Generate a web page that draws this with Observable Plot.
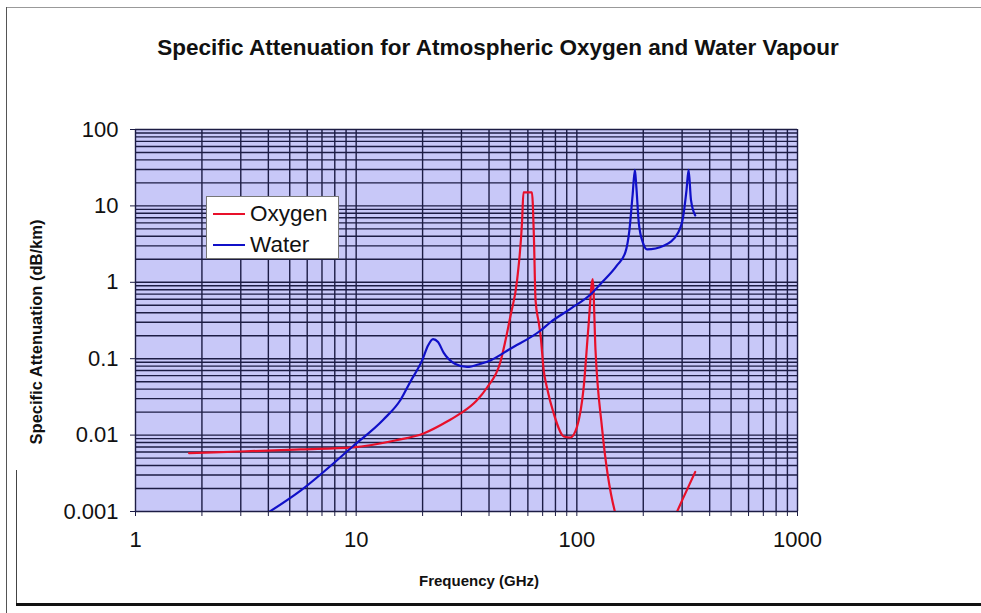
<!DOCTYPE html>
<html>
<head>
<meta charset="utf-8">
<script src="https://cdn.jsdelivr.net/npm/d3@7"></script>
<script src="https://cdn.jsdelivr.net/npm/@observablehq/plot@0.6"></script>
<style>
  html, body { margin: 0; padding: 0; background: #fff; }
  #wrap { position: relative; width: 981px; height: 613px; overflow: hidden; font-family: "Liberation Sans", Arial, sans-serif; }
  #wrap svg { position: absolute; left: 0; top: 0; }
  .abs { position: absolute; white-space: nowrap; }
</style>
</head>
<body>
<div id="wrap"></div>
<script>
// ---- data ----
const title = "Specific Attenuation for Atmospheric Oxygen and Water Vapour";
const xLabel = "Frequency (GHz)";
const yLabel = "Specific Attenuation (dB/km)";
const seriesNames = ["Oxygen", "Water"];
const seriesColors = ["#e8102a", "#1010c8"];

const xTickValues = [1, 10, 100, 1000];
const xTickLabels = ["1", "10", "100", "1000"];
const yTickValues = [0.001, 0.01, 0.1, 1, 10, 100];
const yTickLabels = ["0.001", "0.01", "0.1", "1", "10", "100"];

const oxygenFreq = [1.75, 3, 5.6, 9.7, 15, 20.2, 26.3, 29.7, 35, 39.2, 45, 48, 50, 53.6, 56.5, 57.3, 62.6, 63.9, 65, 67.3, 68.5, 70.8, 73.2, 78.7, 87.3, 93.4, 100, 107.4, 112.8, 118, 121.5, 130, 149.6, 160, 200, 250, 279, 300, 344];
const oxygenAtt  = [0.0058, 0.0061, 0.0065, 0.0069, 0.0085, 0.0105, 0.0155, 0.0192, 0.028, 0.042, 0.09, 0.2, 0.36, 1.06, 6.4, 15, 15, 3.9, 0.58, 0.29, 0.2, 0.07, 0.042, 0.0189, 0.0096, 0.0093, 0.0126, 0.042, 0.255, 1.1, 0.13, 0.0126, 0.00094, 0.0006, 0.0003, 0.0005, 0.00088, 0.0014, 0.0033];

const waterFreq = [3.95, 5.6, 9.7, 13.3, 15.9, 17.6, 19.9, 21.2, 22.3, 23.5, 24.9, 28, 31.8, 36.6, 40.6, 50, 68.5, 75.9, 93.5, 117, 128, 152, 166, 173, 179, 183.3, 186, 191, 200, 208, 249, 288, 303, 314, 321, 329, 344];
const waterAtt  = [0.00095, 0.00188, 0.0072, 0.016, 0.029, 0.05, 0.095, 0.15, 0.18, 0.165, 0.12, 0.086, 0.078, 0.086, 0.095, 0.135, 0.234, 0.30, 0.45, 0.72, 0.95, 1.66, 2.48, 4.76, 14, 29.6, 18, 5.9, 3.2, 2.69, 3.03, 4.5, 7.1, 16, 29.6, 12, 7.5];

// ---- build tables ----
const oxygen = oxygenFreq.map((f, i) => ({f, v: oxygenAtt[i]}));
const water = waterFreq.map((f, i) => ({f, v: waterAtt[i]}));
const xGrid = [];
for (const d of [1, 10, 100]) for (let k = 1; k <= 9; k++) xGrid.push(d * k);
xGrid.push(1000);
const yGrid = [];
for (const d of [0.001, 0.01, 0.1, 1, 10]) for (let k = 1; k <= 9; k++) yGrid.push(+(d * k).toPrecision(3));
yGrid.push(100);

const bg = "#c8c8f8";
const gridColor = "#1c1c44";

const chart = Plot.plot({
  width: 981,
  height: 613,
  marginLeft: 135,
  marginRight: 184,
  marginTop: 129,
  marginBottom: 102,
  style: {background: "transparent", fontFamily: "'Liberation Sans', Arial, sans-serif", color: "#111"},
  x: {type: "log", domain: [1, 1000]},
  y: {type: "log", domain: [0.001, 100]},
  marks: [
    Plot.frame({fill: bg, stroke: null}),
    Plot.gridX(xGrid, {stroke: gridColor, strokeOpacity: 1, strokeWidth: 1.4}),
    Plot.gridY(yGrid, {stroke: gridColor, strokeOpacity: 1, strokeWidth: 1.4}),
    Plot.axisX({ticks: xGrid, tickSize: 5, tickPadding: 15, stroke: gridColor, fontSize: 22, fill: "#111",
      tickFormat: d => { const i = xTickValues.indexOf(d); return i >= 0 ? xTickLabels[i] : ""; }, label: null}),
    Plot.axisY({ticks: yTickValues, tickSize: 5, tickPadding: 12, stroke: gridColor, fontSize: 22, fill: "#111",
      tickFormat: d => { const i = yTickValues.findIndex(t => Math.abs(t - d) < 1e-9); return i >= 0 ? yTickLabels[i] : ""; }, label: null}),
    Plot.line(oxygen, {x: "f", y: "v", stroke: seriesColors[0], strokeWidth: 2.2, curve: "monotone-x", clip: true}),
    Plot.line(water, {x: "f", y: "v", stroke: seriesColors[1], strokeWidth: 2.2, curve: "monotone-x", clip: true})
  ]
});

const wrap = document.getElementById("wrap");
wrap.appendChild(chart);

function add(html, css) {
  const d = document.createElement("div");
  d.className = "abs";
  d.innerHTML = html;
  Object.assign(d.style, css);
  wrap.appendChild(d);
  return d;
}
// frame lines
add("", {left: "6px", top: "7px", width: "975px", height: "0", borderTop: "1px solid #999"});
add("", {left: "6px", top: "7px", width: "0", height: "606px", borderLeft: "1px solid #555"});
add("", {left: "16px", top: "470px", width: "0", height: "136px", borderLeft: "1px solid #444"});
add("", {left: "16px", top: "603px", width: "965px", height: "3px", background: "#111"});

// title & labels
add(title, {left: "498px", top: "48px", transform: "translate(-50%,-50%)", fontSize: "22.5px", fontWeight: "bold", color: "#111"});
add(xLabel, {left: "479px", top: "580px", transform: "translate(-50%,-50%)", fontSize: "15px", fontWeight: "bold", color: "#111"});
add(yLabel, {left: "36px", top: "332px", transform: "translate(-50%,-50%) rotate(-90deg)", fontSize: "16.5px", fontWeight: "bold", color: "#111"});

// legend
const lg = add("", {left: "206px", top: "196px", width: "131px", height: "61px", background: "#fff", border: "1px solid #777"});
seriesNames.forEach((name, i) => {
  const row = document.createElement("div");
  Object.assign(row.style, {position: "absolute", left: "6px", top: (5 + i * 31) + "px", height: "24px", display: "flex", alignItems: "center"});
  row.innerHTML = `<span style="display:inline-block;width:32px;height:2px;background:${seriesColors[i]};margin-right:5px"></span><span style="font-size:22.5px;color:#111">${name}</span>`;
  lg.appendChild(row);
});
</script>
</body>
</html>
